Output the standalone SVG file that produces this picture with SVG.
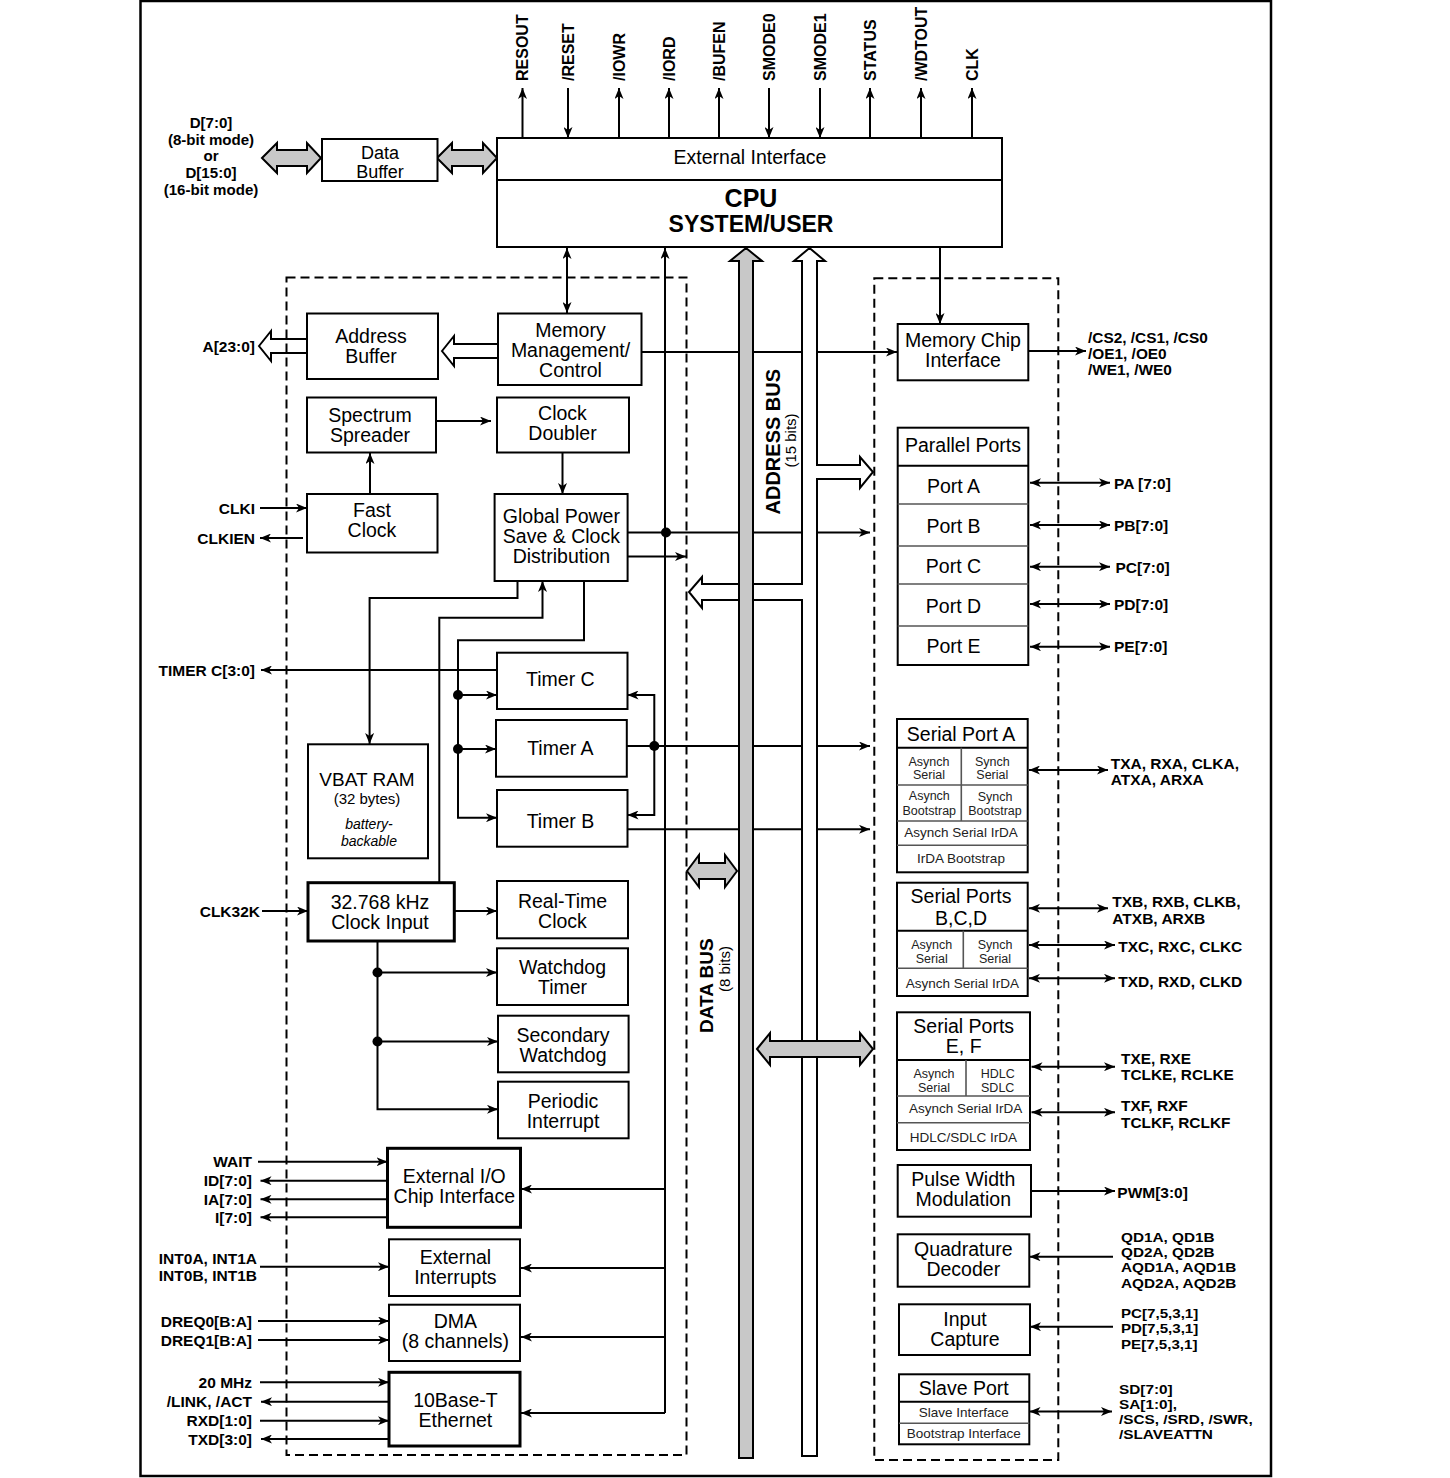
<svg xmlns="http://www.w3.org/2000/svg" width="1450" height="1478" viewBox="0 0 1450 1478">
<defs>
<marker id="a" viewBox="0 0 11 9" refX="11" refY="4.5" markerWidth="11" markerHeight="9" markerUnits="userSpaceOnUse" orient="auto-start-reverse"><path d="M0,0 L11,4.5 L0,9 L3,4.5 z" fill="#000"/></marker>
<style>
text{font-family:"Liberation Sans",Arial,sans-serif;fill:#000}
.box{fill:#fff;stroke:#000;stroke-width:2}
.thick{stroke-width:3}
.t{font-size:19.5px;text-anchor:middle}
.s{font-size:13.5px;text-anchor:middle;fill:#222}
.s2{font-size:12.5px;text-anchor:middle;fill:#222}
.lb{font-size:15.5px;font-weight:bold}
.b{font-weight:bold}
.v{font-size:16px;font-weight:bold}
.e{text-anchor:end}
.m{text-anchor:middle}
.ln{fill:none;stroke:#000;stroke-width:2}
.dv{stroke:#555;stroke-width:1.6}
.hd{stroke:#000;stroke-width:2}
.dash{fill:none;stroke:#000;stroke-width:2;stroke-dasharray:9 5}
.gray{fill:#c8c8c8;stroke:#000;stroke-width:2;stroke-linejoin:miter}
.hol{fill:#fff;stroke:#000;stroke-width:2}
</style>
</defs>
<rect width="1450" height="1478" fill="#fff"/>
<rect x="140.5" y="1" width="1130.5" height="1475" fill="none" stroke="#000" stroke-width="2.5"/>

<!-- connectors -->
<g id="connectors">
<path class="ln" d="M522.5,138V88" marker-end="url(#a)"/>
<path class="ln" d="M568,88V138" marker-end="url(#a)"/>
<path class="ln" d="M619,138V88" marker-end="url(#a)"/>
<path class="ln" d="M669,138V88" marker-end="url(#a)"/>
<path class="ln" d="M719,138V88" marker-end="url(#a)"/>
<path class="ln" d="M769,88V138" marker-end="url(#a)"/>
<path class="ln" d="M820,88V138" marker-end="url(#a)"/>
<path class="ln" d="M870,138V88" marker-end="url(#a)"/>
<path class="ln" d="M921,138V88" marker-end="url(#a)"/>
<path class="ln" d="M972,138V88" marker-end="url(#a)"/>
<path class="ln" d="M567,248V313" marker-start="url(#a)" marker-end="url(#a)"/>
<path class="ln" d="M665,1413V248" marker-end="url(#a)"/>
<path class="ln" d="M665,1413H521" marker-end="url(#a)"/>
<path class="ln" d="M665,1189H521" marker-end="url(#a)"/>
<path class="ln" d="M665,1268H521" marker-end="url(#a)"/>
<path class="ln" d="M665,1337H521" marker-end="url(#a)"/>
<path class="ln" d="M642,352H897" marker-end="url(#a)"/>
<path class="ln" d="M940,248V324" marker-end="url(#a)"/>
<path class="ln" d="M1028,351H1086" marker-end="url(#a)"/>
<path class="ln" d="M437,421H491" marker-end="url(#a)"/>
<path class="ln" d="M370,494V453" marker-end="url(#a)"/>
<path class="ln" d="M562.5,453V494" marker-end="url(#a)"/>
<path class="ln" d="M260,508H307" marker-end="url(#a)"/>
<path class="ln" d="M303,538H260" marker-end="url(#a)"/>
<path class="ln" d="M627.5,532.5H870" marker-end="url(#a)"/>
<circle cx="666" cy="532.5" r="5"/>
<path class="ln" d="M627,556.5H686" marker-end="url(#a)"/>
<path class="ln" d="M517.5,581V598H369.6V744" marker-end="url(#a)"/>
<path class="ln" d="M439.3,883V617.7H542.5V581" marker-end="url(#a)"/>
<path class="ln" d="M584,581V640.3H458V817.7H497" marker-end="url(#a)"/>
<path class="ln" d="M458,695H497" marker-end="url(#a)"/>
<path class="ln" d="M458,749H496" marker-end="url(#a)"/>
<circle cx="458" cy="695" r="5"/>
<circle cx="458" cy="749" r="5"/>
<path class="ln" d="M497,670H261" marker-end="url(#a)"/>
<path class="ln" d="M627,746H870" marker-end="url(#a)"/>
<path class="ln" d="M627.5,695H654.3V815H627.5" marker-start="url(#a)" marker-end="url(#a)"/>
<circle cx="654.3" cy="746" r="5"/>
<path class="ln" d="M627.5,829.3H870" marker-end="url(#a)"/>
<path class="ln" d="M262,911H308" marker-end="url(#a)"/>
<path class="ln" d="M454.3,911H497" marker-end="url(#a)"/>
<path class="ln" d="M377.5,941V1109.3H498" marker-end="url(#a)"/>
<path class="ln" d="M377.5,972.5H497" marker-end="url(#a)"/>
<path class="ln" d="M377.5,1041.5H498" marker-end="url(#a)"/>
<circle cx="377.5" cy="972.5" r="5"/>
<circle cx="377.5" cy="1041.5" r="5"/>
<path class="ln" d="M258,1161.7H387.5" marker-end="url(#a)"/>
<path class="ln" d="M387.5,1180.7H260.5" marker-end="url(#a)"/>
<path class="ln" d="M387.5,1199.3H260.5" marker-end="url(#a)"/>
<path class="ln" d="M387.5,1217.3H260.5" marker-end="url(#a)"/>
<path class="ln" d="M260,1266.7H389" marker-end="url(#a)"/>
<path class="ln" d="M258,1321H389" marker-end="url(#a)"/>
<path class="ln" d="M258,1340H389" marker-end="url(#a)"/>
<path class="ln" d="M260,1382.3H389" marker-end="url(#a)"/>
<path class="ln" d="M389,1401.7H261" marker-end="url(#a)"/>
<path class="ln" d="M260,1420.7H389" marker-end="url(#a)"/>
<path class="ln" d="M389,1439H261" marker-end="url(#a)"/>
<path class="ln" d="M1030,482.7H1110" marker-start="url(#a)" marker-end="url(#a)"/>
<path class="ln" d="M1030,525H1110" marker-start="url(#a)" marker-end="url(#a)"/>
<path class="ln" d="M1030,566.7H1110" marker-start="url(#a)" marker-end="url(#a)"/>
<path class="ln" d="M1030,604H1110" marker-start="url(#a)" marker-end="url(#a)"/>
<path class="ln" d="M1030,646.7H1110" marker-start="url(#a)" marker-end="url(#a)"/>
<path class="ln" d="M1029,770H1108" marker-start="url(#a)" marker-end="url(#a)"/>
<path class="ln" d="M1029,908.3H1108" marker-start="url(#a)" marker-end="url(#a)"/>
<path class="ln" d="M1029,945H1115" marker-start="url(#a)" marker-end="url(#a)"/>
<path class="ln" d="M1029,978.3H1115" marker-start="url(#a)" marker-end="url(#a)"/>
<path class="ln" d="M1031.5,1066.7H1115" marker-start="url(#a)" marker-end="url(#a)"/>
<path class="ln" d="M1031.5,1112.3H1115" marker-start="url(#a)" marker-end="url(#a)"/>
<path class="ln" d="M1031,1191H1115" marker-end="url(#a)"/>
<path class="ln" d="M1113,1256.7H1029.5" marker-end="url(#a)"/>
<path class="ln" d="M1113,1326.7H1030" marker-end="url(#a)"/>
<path class="ln" d="M1029.5,1411.5H1112" marker-start="url(#a)" marker-end="url(#a)"/>

<!-- buses -->
<path class="hol" d="M809.5,248L825,261H817V465H860V457L873,472L860,488V479H817V1456H802V600H702V608L689,592L702,577V584H802V261H794Z"/>
<path class="gray" d="M746,248L762,261H753V1458H739V261H730Z"/>
<path class="gray" d="M757,1049L770,1033V1041H860V1033L873,1049L860,1065V1057H770V1065Z"/>
<path class="gray" d="M687,871L699,855V863H725V855L737,871L725,887V879H699V887Z"/>
<path class="gray" d="M262,158L277,143V150H307V143L321,158L307,173V166H277V173Z"/>
<path class="gray" d="M437,158L452,143V150H483V143L497,158L483,173V166H452V173Z"/>
<path class="hol" d="M442,351L454,336V344H498V358H454V366Z"/>
<path class="hol" d="M259,346L271,331V339H307V353H271V361Z"/>
</g>

<!-- dashed regions -->
<rect class="dash" x="286.5" y="277.5" width="400" height="1177.5"/>
<rect class="dash" x="874.3" y="278.3" width="184" height="1181.7"/>

<!-- bus labels -->
<text class="m" transform="translate(779.5,441.7) rotate(-90)" font-size="20" font-weight="bold">ADDRESS BUS</text>
<text class="m" transform="translate(795.5,440.5) rotate(-90)" font-size="15">(15 bits)</text>
<text class="m" transform="translate(713.3,985.7) rotate(-90)" font-size="19" font-weight="bold">DATA BUS</text>
<text class="m" transform="translate(729.5,969) rotate(-90)" font-size="15">(8 bits)</text>

<!-- top labels -->
<g id="top-labels" class="v">
<text transform="translate(528,81) rotate(-90)">RESOUT</text>
<text transform="translate(573.5,81) rotate(-90)">/RESET</text>
<text transform="translate(624.5,81) rotate(-90)">/IOWR</text>
<text transform="translate(674.5,81) rotate(-90)">/IORD</text>
<text transform="translate(724.5,81) rotate(-90)">/BUFEN</text>
<text transform="translate(774.5,81) rotate(-90)">SMODE0</text>
<text transform="translate(825.5,81) rotate(-90)">SMODE1</text>
<text transform="translate(875.5,81) rotate(-90)">STATUS</text>
<text transform="translate(926.5,81) rotate(-90)">/WDTOUT</text>
<text transform="translate(977.5,81) rotate(-90)">CLK</text>
</g>

<g id="dlabel" class="b m" font-size="14.5" transform="translate(211,0) scale(1.04,1)">
<text x="0" y="128">D[7:0]</text>
<text x="0" y="144.7">(8-bit mode)</text>
<text x="0" y="161.3">or</text>
<text x="0" y="178">D[15:0]</text>
<text x="0" y="194.7">(16-bit mode)</text>
</g>

<!-- nodes -->
<g id="data-buffer"><rect class="box" x="322" y="139" width="115.5" height="42"/><text class="t" x="380" y="158.5" style="font-size:18px">Data</text><text class="t" x="380" y="177.5" style="font-size:18px">Buffer</text></g>
<g id="cpu"><rect class="box" x="497" y="138" width="505" height="109"/><line class="hd" x1="497" y1="180" x2="1002" y2="180"/><text class="t" x="750" y="164">External Interface</text><text class="m" x="751" y="207" font-size="25" font-weight="bold">CPU</text><text class="m" x="751" y="232" font-size="23" font-weight="bold">SYSTEM/USER</text></g>
<g id="address-buffer"><rect class="box" x="307" y="313.5" width="131" height="65.5"/><text class="t" x="371" y="342.7">Address</text><text class="t" x="371" y="363.3">Buffer</text></g>
<g id="mm"><rect class="box" x="498" y="313.5" width="143.5" height="71.5"/><text class="t" x="570.5" y="337">Memory</text><text class="t" x="570.5" y="357.3">Management/</text><text class="t" x="570.5" y="377.3">Control</text></g>
<g id="spectrum"><rect class="box" x="307" y="397.5" width="129" height="55"/><text class="t" x="370" y="421.7">Spectrum</text><text class="t" x="370" y="441.7">Spreader</text></g>
<g id="clock-doubler"><rect class="box" x="497" y="397.5" width="132" height="55"/><text class="t" x="562.5" y="420">Clock</text><text class="t" x="562.5" y="440">Doubler</text></g>
<g id="fast-clock"><rect class="box" x="307" y="494" width="130.5" height="58.5"/><text class="t" x="372" y="517.3">Fast</text><text class="t" x="372" y="537.3">Clock</text></g>
<g id="global-power"><rect class="box" x="494.6" y="494" width="133" height="87"/><text class="t" x="561.4" y="523.3">Global Power</text><text class="t" x="561.4" y="542.7">Save &amp; Clock</text><text class="t" x="561.4" y="562.7">Distribution</text></g>
<g id="timer-c"><rect class="box" x="497" y="652.7" width="130.5" height="56.3"/><text class="t" x="560.4" y="686">Timer C</text></g>
<g id="timer-a"><rect class="box" x="496" y="720" width="130.8" height="56.7"/><text class="t" x="560.4" y="755">Timer A</text></g>
<g id="timer-b"><rect class="box" x="497" y="790" width="130.5" height="56.7"/><text class="t" x="560.4" y="827.7">Timer B</text></g>
<g id="vbat-ram"><rect class="box" x="308" y="744.3" width="120" height="114" stroke-width="3.5"/><text class="t" x="367" y="786" style="font-size:19px">VBAT RAM</text><text class="t" x="367" y="803.5" style="font-size:15px">(32 bytes)</text><text class="t" x="369" y="829" style="font-size:14px;font-style:italic">battery-</text><text class="t" x="369" y="845.5" style="font-size:14px;font-style:italic">backable</text></g>
<g id="clock-input"><rect class="box thick" x="308" y="882.7" width="146.3" height="58.3"/><text class="t" x="380" y="909.3">32.768 kHz</text><text class="t" x="380" y="929.3">Clock Input</text></g>
<g id="rtc"><rect class="box" x="497" y="881" width="131" height="57.3"/><text class="t" x="562.5" y="908.3">Real-Time</text><text class="t" x="562.5" y="928.3">Clock</text></g>
<g id="watchdog"><rect class="box" x="497" y="948.3" width="131" height="56.7"/><text class="t" x="562.5" y="974.3">Watchdog</text><text class="t" x="562.5" y="993.8">Timer</text></g>
<g id="secondary-watchdog"><rect class="box" x="498" y="1015.7" width="130.6" height="56.6"/><text class="t" x="563" y="1041.7">Secondary</text><text class="t" x="563" y="1061.7">Watchdog</text></g>
<g id="periodic-interrupt"><rect class="box" x="498" y="1081.7" width="130.6" height="56.6"/><text class="t" x="563" y="1108">Periodic</text><text class="t" x="563" y="1128">Interrupt</text></g>
<g id="ext-io"><rect class="box thick" x="387.5" y="1148.3" width="133" height="79"/><text class="t" x="454.3" y="1182.5">External I/O</text><text class="t" x="454.3" y="1202.5">Chip Interface</text></g>
<g id="ext-int"><rect class="box" x="389" y="1239.3" width="131" height="56.7"/><text class="t" x="455.4" y="1264">External</text><text class="t" x="455.4" y="1284">Interrupts</text></g>
<g id="dma"><rect class="box" x="389" y="1304.7" width="131" height="56.3"/><text class="t" x="455.4" y="1328">DMA</text><text class="t" x="455.4" y="1348">(8 channels)</text></g>
<g id="ethernet"><rect class="box thick" x="389" y="1372.3" width="131" height="73.7"/><text class="t" x="455.4" y="1406.5">10Base-T</text><text class="t" x="455.4" y="1426.7">Ethernet</text></g>

<g id="mci"><rect class="box" x="897.7" y="324" width="130.6" height="56.3"/><text class="t" x="963" y="347">Memory Chip</text><text class="t" x="963" y="367">Interface</text></g>
<g id="parallel-ports"><rect class="box" x="897.7" y="427.7" width="130.6" height="237.3"/>
<line class="hd" x1="897.7" y1="465.7" x2="1028.3" y2="465.7"/>
<line class="dv" x1="897.7" y1="504" x2="1028.3" y2="504"/>
<line class="dv" x1="897.7" y1="546" x2="1028.3" y2="546"/>
<line class="dv" x1="897.7" y1="584" x2="1028.3" y2="584"/>
<line class="dv" x1="897.7" y1="626" x2="1028.3" y2="626"/>
<text class="t" x="963" y="451.7">Parallel Ports</text>
<text class="t" x="953.5" y="492.7">Port A</text><text class="t" x="953.5" y="533.3">Port B</text><text class="t" x="953.5" y="573.3">Port C</text><text class="t" x="953.5" y="613.3">Port D</text><text class="t" x="953.5" y="652.7">Port E</text></g>
<g id="serial-a"><rect class="box" x="897" y="719" width="130.7" height="153.3"/>
<line class="hd" x1="897" y1="747.7" x2="1027.7" y2="747.7"/>
<line class="dv" x1="897" y1="785" x2="1027.7" y2="785"/>
<line class="dv" x1="897" y1="821" x2="1027.7" y2="821"/>
<line class="dv" x1="897" y1="845.3" x2="1027.7" y2="845.3"/>
<line class="dv" x1="961.3" y1="747.7" x2="961.3" y2="821"/>
<text class="t" x="961" y="740.7">Serial Port A</text>
<text class="s2" x="929" y="765.5">Asynch</text><text class="s2" x="929" y="779">Serial</text>
<text class="s2" x="992.3" y="765.5">Synch</text><text class="s2" x="992.3" y="779">Serial</text>
<text class="s2" x="929.3" y="800">Asynch</text><text class="s2" x="929.3" y="814.5">Bootstrap</text>
<text class="s2" x="995" y="800.5">Synch</text><text class="s2" x="995" y="814.5">Bootstrap</text>
<text class="s" x="961" y="837.3">Asynch Serial IrDA</text>
<text class="s" x="961" y="862.7">IrDA Bootstrap</text></g>
<g id="serial-bcd"><rect class="box" x="897" y="882.7" width="130.7" height="113.3"/>
<line class="hd" x1="897" y1="930.7" x2="1027.7" y2="930.7"/>
<line class="dv" x1="897" y1="968.3" x2="1027.7" y2="968.3"/>
<line class="dv" x1="963.3" y1="930.7" x2="963.3" y2="968.3"/>
<text class="t" x="961" y="903.3">Serial Ports</text><text class="t" x="961" y="924.5">B,C,D</text>
<text class="s2" x="931.7" y="949">Asynch</text><text class="s2" x="931.7" y="963">Serial</text>
<text class="s2" x="995" y="949">Synch</text><text class="s2" x="995" y="963">Serial</text>
<text class="s" x="962.3" y="988.3">Asynch Serial IrDA</text></g>
<g id="serial-ef"><rect class="box" x="897" y="1012.3" width="133" height="137.7"/>
<line class="hd" x1="897" y1="1060" x2="1030" y2="1060"/>
<line class="dv" x1="897" y1="1096" x2="1030" y2="1096"/>
<line class="dv" x1="897" y1="1122.7" x2="1030" y2="1122.7"/>
<line class="dv" x1="966" y1="1060" x2="966" y2="1096"/>
<text class="t" x="963.7" y="1032.7">Serial Ports</text><text class="t" x="963.7" y="1053">E, F</text>
<text class="s2" x="934" y="1077.5">Asynch</text><text class="s2" x="934" y="1091.7">Serial</text>
<text class="s2" x="997.7" y="1077.5">HDLC</text><text class="s2" x="997.7" y="1091.7">SDLC</text>
<text class="s" x="965.7" y="1113.3">Asynch Serial IrDA</text>
<text class="s" x="963.3" y="1141.7">HDLC/SDLC IrDA</text></g>
<g id="pwm"><rect class="box" x="897.7" y="1165" width="133.3" height="51.7"/><text class="t" x="963.3" y="1186">Pulse Width</text><text class="t" x="963.3" y="1206">Modulation</text></g>
<g id="quadrature"><rect class="box" x="897.7" y="1234.3" width="131.6" height="52.4"/><text class="t" x="963.3" y="1255.5">Quadrature</text><text class="t" x="963.3" y="1275.5">Decoder</text></g>
<g id="input-capture"><rect class="box" x="899" y="1304.3" width="131" height="50.7"/><text class="t" x="965" y="1325.5">Input</text><text class="t" x="965" y="1345.7">Capture</text></g>
<g id="slave-port"><rect class="box" x="899" y="1374.3" width="130.3" height="70"/>
<line class="hd" x1="899" y1="1401.7" x2="1029.3" y2="1401.7"/>
<line class="dv" x1="899" y1="1423.3" x2="1029.3" y2="1423.3"/>
<text class="t" x="963.7" y="1395">Slave Port</text>
<text class="s" x="963.7" y="1417.3">Slave Interface</text>
<text class="s" x="963.7" y="1438.3">Bootstrap Interface</text></g>

<!-- left labels -->
<g id="left-labels" class="lb e">
<text x="255" y="352">A[23:0]</text>
<text x="255" y="514">CLKI</text>
<text x="255" y="544">CLKIEN</text>
<text x="255" y="675.5">TIMER C[3:0]</text>
<text x="260" y="916.5">CLK32K</text>
<text x="252" y="1167">WAIT</text>
<text x="252" y="1186">ID[7:0]</text>
<text x="252" y="1205">IA[7:0]</text>
<text x="252" y="1223">I[7:0]</text>
<text x="257" y="1264">INT0A, INT1A</text>
<text x="257" y="1281">INT0B, INT1B</text>
<text x="252" y="1326.5">DREQ0[B:A]</text>
<text x="252" y="1345.5">DREQ1[B:A]</text>
<text x="252" y="1387.5">20 MHz</text>
<text x="252" y="1407">/LINK, /ACT</text>
<text x="252" y="1426">RXD[1:0]</text>
<text x="252" y="1444.5">TXD[3:0]</text>
</g>

<!-- right labels -->
<g id="right-labels">
<g class="b" font-size="14" transform="translate(1088,0) scale(1.1,1)">
<text x="0" y="343">/CS2, /CS1, /CS0</text>
<text x="0" y="359">/OE1, /OE0</text>
<text x="0" y="375">/WE1, /WE0</text>
</g>
<g class="lb">
<text x="1114" y="489">PA [7:0]</text>
<text x="1114" y="531">PB[7:0]</text>
<text x="1115.5" y="573">PC[7:0]</text>
<text x="1114" y="610">PD[7:0]</text>
<text x="1114" y="652">PE[7:0]</text>
<text x="1112.3" y="907">TXB, RXB, CLKB,</text>
<text x="1112.3" y="924">ATXB, ARXB</text>
<text x="1118.3" y="952">TXC, RXC, CLKC</text>
<text x="1118.3" y="986.5">TXD, RXD, CLKD</text>
<text x="1117.3" y="1198">PWM[3:0]</text>
</g>
<g class="b" font-size="14.5" transform="translate(1110.7,0) scale(1.07,1)">
<text x="0" y="769">TXA, RXA, CLKA,</text>
<text x="0" y="785.5">ATXA, ARXA</text>
</g>
<g class="b" font-size="14" transform="translate(1121,0) scale(1.1,1)">
<text x="0" y="1064">TXE, RXE</text>
<text x="0" y="1080">TCLKE, RCLKE</text>
<text x="0" y="1111.5">TXF, RXF</text>
<text x="0" y="1128">TCLKF, RCLKF</text>
</g>
<g class="b" font-size="13" transform="translate(1121,0) scale(1.18,1)">
<text x="0" y="1242">QD1A, QD1B</text>
<text x="0" y="1257">QD2A, QD2B</text>
<text x="0" y="1272.5">AQD1A, AQD1B</text>
<text x="0" y="1288">AQD2A, AQD2B</text>
</g>
<g class="b" font-size="13.5" transform="translate(1121,0) scale(1.12,1)">
<text x="0" y="1318">PC[7,5,3,1]</text>
<text x="0" y="1333.5">PD[7,5,3,1]</text>
<text x="0" y="1349">PE[7,5,3,1]</text>
</g>
<g class="b" font-size="13" transform="translate(1119,0) scale(1.18,1)">
<text x="0" y="1394.5">SD[7:0]</text>
<text x="0" y="1409.3">SA[1:0],</text>
<text x="0" y="1424.2">/SCS, /SRD, /SWR,</text>
<text x="0" y="1439">/SLAVEATTN</text>
</g>
</g>
</svg>
